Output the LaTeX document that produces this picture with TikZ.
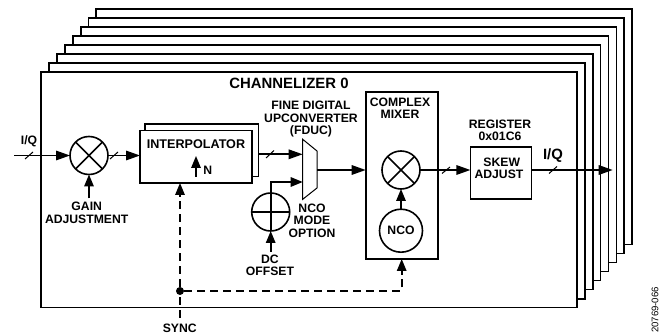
\documentclass[tikz,border=0pt]{standalone}
\usepackage{fontspec}
\setmainfont{Liberation Sans}
\usetikzlibrary{arrows.meta}
\tikzset{
  x=1pt,y=-1pt,
  lbl/.style={font=\bfseries\fontsize{12.2}{12.5}\selectfont,align=center,inner sep=0pt},
  big/.style={font=\bfseries\fontsize{14.9}{15}\selectfont,align=center,inner sep=0pt},
  line/.style={line width=1.6pt},
  arr/.style={line width=1.6pt,-{Triangle[length=14pt,width=9.5pt]}},
  arrs/.style={line width=1.6pt,-{Triangle[length=12pt,width=9.5pt]}},
  dsh/.style={line width=1.6pt,dash pattern=on 8pt off 5pt},
  slash/.style={line width=1pt},
  layer/.style={draw,line width=1.6pt,fill=white},
  boxx/.style={draw,line width=1.6pt,fill=white,inner sep=0pt,outer sep=0pt},
  circ/.style={circle,draw,line width=1.6pt,fill=white,minimum size=38pt,inner sep=0pt,outer sep=0pt}
}
\begin{document}
\begin{tikzpicture}
\useasboundingbox (0,0) rectangle (665,334);
% stacked channelizer layers, back to front
\draw[layer] (96,9) rectangle (632,244.7);
\draw[layer] (88.5,18) rectangle (624,253.7);
\draw[layer] (81,27) rectangle (616.5,262.7);
\draw[layer] (73,36) rectangle (608.5,271.7);
\draw[layer] (65,45) rectangle (600.5,280.7);
\draw[layer] (57,54) rectangle (593,289.5);
\draw[layer] (49,63) rectangle (585,299);
\draw[layer] (41,72) rectangle (577,307.5);
\node[big] (title) at (289,83.7) {CHANNELIZER 0};

% gain multiplier
\node[circ] (gain) at (89,155.5) {};
\draw[line] (gain.north west) -- (gain.south east) (gain.north east) -- (gain.south west);
\coordinate (iqin) at (14,155.5);
\node[lbl] (iqlbl) at (29,141.7) {I/Q};
\draw[arr] (iqin) -- (gain.west);
\draw[slash] (25,159) -- (33,152);
\node[lbl] (gainlbl) at (86.7,212.7) {GAIN\\ADJUSTMENT};
\draw[arrs] (gain.south |- gainlbl.north) ++(0,-3.5) -- (gain.south);

% interpolator
\node[boxx,minimum width=113.5pt,minimum height=52.7pt] (interpback) at (201.75,150.35) {};
\node[boxx,minimum width=112pt,minimum height=52.3pt] (interp) at (196,156.85) {};
\node[lbl,font=\bfseries\fontsize{12.6}{12.5}\selectfont] (interplbl) at (196,143.7) {INTERPOLATOR};
\coordinate (nfoot) at (196,177);
\coordinate (ntip) at (196,156);
\node[lbl] (nlbl) at (207.7,170) {N};
\draw[arrs] (nfoot) -- (ntip);
\draw[arr] (gain.east) -- (interp.west |- gain.east);
\draw[slash] (110,159) -- (118,152);

% fine digital upconverter mux
\coordinate (m1) at (302.7,139.3);
\coordinate (m2) at (317,151);
\coordinate (m3) at (317,188);
\coordinate (m4) at (302.7,199.3);
\coordinate (muxin) at (302.7,154.3);
\coordinate (muxdc) at (302.7,182);
\coordinate (muxout) at (317,170);
\draw[line width=1pt,fill=white] (m1) -- (m2) -- (m3) -- (m4) -- cycle;
\draw[arr] (interpback.east |- muxin) -- (muxin);
\draw[slash] (266,158) -- (274,150.5);
\node[lbl] (fduc) at (311,119.3) {FINE DIGITAL\\UPCONVERTER\\(FDUC)};
\node[lbl] (ncomode) at (312,220.7) {NCO\\MODE\\OPTION};

% DC offset adder
\node[circ] (dc) at (270.7,212) {};
\draw[line] (dc.north) -- (dc.south) (dc.west) -- (dc.east);
\draw[arrs] (dc.north) |- (muxdc);
\node[lbl] (dclbl) at (270,265.3) {DC\\OFFSET};
\draw[arrs] (dc.south |- dclbl.north) ++(0,-3) -- (dc.south);

% complex mixer
\node[boxx,minimum width=72pt,minimum height=166.7pt] (mixer) at (401.7,175.65) {};
\node[lbl] (mixlbl) at (400,108) {COMPLEX\\MIXER};
\node[circ] (mix) at (401,170) {};
\draw[line] (mix.north west) -- (mix.south east) (mix.north east) -- (mix.south west);
\node[circ,minimum size=43pt,font=\bfseries\fontsize{12.2}{12.5}\selectfont] (nco) at (401,230.7) {NCO};
\draw[arrs] (nco) -- (mix);
\draw[arr] (muxout) -- (mixer.west |- muxout);

% skew adjust
\node[boxx,minimum width=61pt,minimum height=52pt] (skew) at (500.9,173) {};
\node[lbl] (skewlbl) at (499,168.5) {\hspace*{5.5pt}SKEW\\ADJUST};
\node[lbl] (reglbl) at (500,130.2) {REGISTER\\0x01C6};
\draw[arr] (mix.east) -- (skew.west |- mix.east);
\draw[slash] (442,173.5) -- (450,167);
\coordinate (qout) at (612.7,170);
\draw[arr] (skew.east |- mix.east) -- (qout);
\draw[slash] (549,173.5) -- (557,166.5);
\node[big] (iqout) at (553,156) {I/Q};

% sync
\node[lbl] (synclbl) at (179.7,328) {SYNC};
\node[circle,fill=black,minimum size=8pt,inner sep=0pt] (dot) at (180,291) {};
\coordinate (syncfoot) at (180,318);
\coordinate (syncup) at (180,197);
\coordinate (corner) at (401.7,291);
\coordinate (mixup) at (401.7,274);
\draw[dsh] (syncfoot) -- (dot);
\draw[dsh] (dot) -- (syncup);
\draw[arrs] (syncup) -- (interp.south -| syncup);
\draw[dsh] (dot) -- (corner) -- (mixup);
\draw[arrs] (mixup) -- (mixer.south -| mixup);

\node[font=\fontsize{9.6}{10}\selectfont,rotate=90,inner sep=0pt] (serial) at (655,310) {20769-066};
\end{tikzpicture}
\end{document}
